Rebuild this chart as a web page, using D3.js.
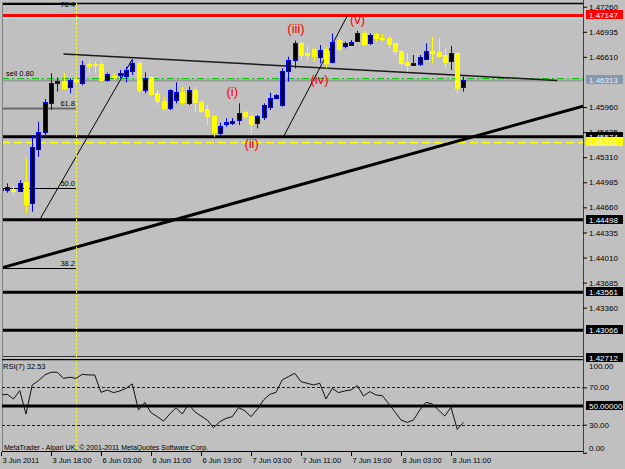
<!DOCTYPE html>
<html>
<head>
<meta charset="utf-8">
<script src="https://cdn.jsdelivr.net/npm/d3@7/dist/d3.min.js"></script>
<style>
  body { margin: 0; background: #c0c0c0; }
  svg { display: block; font-family: 'Liberation Sans', Arial, sans-serif; }
</style>
</head>
<body>
<div id="chart"></div>
<script>
// EURUSD-style H1 chart, 75 bars
var timeLabels = ['3 Jun 2011', '3 Jun 18:00', '6 Jun 03:00', '6 Jun 11:00', '6 Jun 19:00',
                  '7 Jun 03:00', '7 Jun 11:00', '7 Jun 19:00', '8 Jun 03:00', '8 Jun 11:00'];
var timeTickBars = [0, 8, 16, 24, 32, 40, 48, 56, 64, 72];

var opens = [1.44885, 1.44894, 1.44898, 1.44876, 1.44992, 1.44712, 1.45425, 1.45640, 1.46016, 1.46275,
             1.46301, 1.46216, 1.46319, 1.46267, 1.46518, 1.46518, 1.46518, 1.46310, 1.46362, 1.46366,
             1.46366, 1.46431, 1.46527, 1.46190, 1.46353, 1.46138, 1.46038, 1.45943, 1.46051, 1.46159,
             1.46016, 1.46181, 1.46029, 1.45930, 1.45844, 1.45627, 1.45740, 1.45757, 1.45792, 1.45899,
             1.45844, 1.45749, 1.45835, 1.45964, 1.46073, 1.45986, 1.46431, 1.46569, 1.46786, 1.46656,
             1.46708, 1.46612, 1.46708, 1.46534, 1.46829, 1.46742, 1.46764, 1.46820, 1.46923, 1.46786,
             1.46906, 1.46851, 1.46851, 1.46786, 1.46690, 1.46547, 1.46505, 1.46518, 1.46591, 1.46690,
             1.46677, 1.46634, 1.46547, 1.46656, 1.46223];
var highs = [1.44911, 1.44971, 1.44927, 1.45014, 1.45295, 1.45597, 1.45770, 1.46064, 1.46397, 1.46345,
             1.46405, 1.46332, 1.46336, 1.46560, 1.46560, 1.46544, 1.46547, 1.46405, 1.46397, 1.46440,
             1.46483, 1.46579, 1.46556, 1.46410, 1.46362, 1.46181, 1.46094, 1.46190, 1.46280, 1.46223,
             1.46223, 1.46223, 1.46051, 1.45986, 1.45857, 1.45757, 1.45814, 1.45818, 1.46008, 1.45908,
             1.45857, 1.45857, 1.46008, 1.46146, 1.46129, 1.46462, 1.46612, 1.46820, 1.46807, 1.46742,
             1.46721, 1.46764, 1.46742, 1.46915, 1.46851, 1.46807, 1.46829, 1.46949, 1.46949, 1.46915,
             1.46923, 1.46906, 1.46880, 1.46794, 1.46699, 1.46656, 1.46634, 1.46634, 1.46786, 1.46871,
             1.46851, 1.46721, 1.46751, 1.46677, 1.46353];
var lows = [1.44798, 1.44850, 1.44820, 1.44863, 1.44587, 1.44603, 1.45316, 1.45559, 1.45921, 1.46159,
            1.46181, 1.46138, 1.46271, 1.46245, 1.46397, 1.46397, 1.46288, 1.46288, 1.46310, 1.46332,
            1.46280, 1.46375, 1.46138, 1.46138, 1.46103, 1.45986, 1.45921, 1.45921, 1.46008, 1.45986,
            1.45986, 1.45899, 1.45883, 1.45727, 1.45575, 1.45597, 1.45705, 1.45727, 1.45727, 1.45814,
            1.45619, 1.45684, 1.45792, 1.45921, 1.46060, 1.45964, 1.46288, 1.46462, 1.46569, 1.46569,
            1.46547, 1.46527, 1.46462, 1.46527, 1.46677, 1.46721, 1.46751, 1.46807, 1.46751, 1.46764,
            1.46807, 1.46807, 1.46721, 1.46634, 1.46505, 1.46418, 1.46492, 1.46492, 1.46579, 1.46527,
            1.46604, 1.46462, 1.46440, 1.46138, 1.46159];
var closes = [1.44904, 1.44927, 1.44876, 1.44979, 1.44712, 1.45438, 1.45640, 1.46029, 1.46275, 1.46301,
              1.46216, 1.46310, 1.46293, 1.46505, 1.46496, 1.46501, 1.46310, 1.46388, 1.46345, 1.46397,
              1.46440, 1.46534, 1.46181, 1.46340, 1.46138, 1.46029, 1.45943, 1.46181, 1.46159, 1.46029,
              1.46181, 1.46029, 1.45912, 1.45844, 1.45640, 1.45718, 1.45766, 1.45783, 1.45886, 1.45844,
              1.45740, 1.45844, 1.45986, 1.46081, 1.46112, 1.46431, 1.46569, 1.46794, 1.46634, 1.46625,
              1.46612, 1.46699, 1.46527, 1.46799, 1.46708, 1.46786, 1.46807, 1.46923, 1.46786, 1.46893,
              1.46851, 1.46842, 1.46773, 1.46677, 1.46540, 1.46505, 1.46534, 1.46612, 1.46690, 1.46669,
              1.46621, 1.46540, 1.46656, 1.46203, 1.46313];

var rsiValues = [61.8, 62.5, 57.5, 66.4, 41.4, 72.5, 77.1, 83.2, 86.1, 86.1,
                 79.6, 80.7, 79.6, 83.9, 83.2, 83.2, 64.6, 67.1, 64.3, 66.1,
                 68.9, 73.6, 45.7, 53.9, 42.9, 38.6, 33.9, 41.4, 48.2, 41.4,
                 51.8, 43.9, 39.3, 35.0, 26.8, 33.2, 36.8, 38.6, 48.2, 45.0,
                 38.6, 46.4, 56.4, 62.5, 64.6, 77.9, 81.4, 85.0, 76.0, 74.3,
                 72.5, 74.3, 57.5, 68.9, 64.3, 66.1, 67.1, 71.8, 60.7, 65.4,
                 61.8, 61.1, 52.9, 43.9, 35.0, 32.5, 35.0, 45.7, 53.9, 52.1,
                 45.7, 39.3, 48.6, 25.0, 32.53];

var priceTicks = [1.47260, 1.46935, 1.46610, 1.45960, 1.45635, 1.45310,
                  1.44985, 1.44660, 1.44335, 1.44010, 1.43685, 1.43360];
var rsiTicks = [0, 30, 70, 100];
var rsiLevels = [30, 70];

// horizontal objects
var blackLevels = [1.45574, 1.44498, 1.43561, 1.43066, 1.42712];
var redLevel = 1.47147;
var cyanLevel = 1.47114;
var sellLevel = 1.46332;
var bidLevel = 1.46313;
var yellowLevel = 1.45511;

// fibo
var fiboNames = ['76.4', '61.8', '50.0', '38.2'];
var fiboPrices = [1.47289, 1.45944, 1.44907, 1.43874];
var fiboEndBar = 12;
var vlineBar = 12;

// waves
var waveNames = ['(i)', '(ii)', '(iii)', '(iv)', '(v)'];
var waveBars = [37, 40.1, 47.2, 50.96, 57.04];
var wavePrices = [1.46155, 1.45488, 1.46984, 1.46317, 1.47094];

// trendlines [bar, price]
var trendMain = [[0, 1.43874], [74, 1.45541]];
var trendUp1 = [[6.25, 1.44509], [21, 1.46578]];
var trendUp2 = [[45.2, 1.45576], [55.4, 1.47140]];
var trendFlat = [[10, 1.46647], [89, 1.46304]];

var pl = 2, pr = 583, pt = 3, pb = 357;
var rsiTop = 359, rsiBottom = 452;

var x = d3.scaleLinear().domain([0, 72]).range([1, 451]);
var y = d3.scaleLinear().domain([1.42721, 1.47308]).range([pb, pt]);
var yr = d3.scaleLinear().domain([30, 70]).range([424.7, 387.3]);

var svg = d3.select('#chart').append('svg')
            .attr('width', 625)
            .attr('height', 469);

svg.append('rect').attr('width', 625).attr('height', 469).attr('fill', '#c0c0c0');

var defs = svg.append('defs');
defs.append('clipPath').attr('id', 'clip-main')
    .append('rect').attr('x', pl).attr('y', 0).attr('width', pr - pl).attr('height', pb);
defs.append('clipPath').attr('id', 'clip-rsi')
    .append('rect').attr('x', pl).attr('y', rsiTop).attr('width', pr - pl).attr('height', rsiBottom - rsiTop);

var main = svg.append('g').attr('clip-path', 'url(#clip-main)');

function hline(g, yy, color, width, dash) {
    g.append('line')
        .attr('x1', pl).attr('x2', pr)
        .attr('y1', yy).attr('y2', yy)
        .attr('stroke', color)
        .attr('stroke-width', width)
        .attr('stroke-dasharray', dash || null);
}

function seg(g, pts, color, width, ray) {
    var i0 = pts[0][0], p0 = pts[0][1], i1 = pts[1][0], p1 = pts[1][1];
    var iEnd = ray ? x.invert(pr) : i1;
    var pEnd = p0 + (p1 - p0) * (iEnd - i0) / (i1 - i0);
    g.append('line')
        .attr('x1', x(i0)).attr('y1', y(p0))
        .attr('x2', x(iEnd)).attr('y2', y(pEnd))
        .attr('stroke', color)
        .attr('stroke-width', width);
}

// top frame line
hline(main, pt + 0.5, '#000', 1.5);

// Fibo
fiboPrices.forEach(function(p, k) {
    main.append('line')
        .attr('x1', pl).attr('x2', x(fiboEndBar))
        .attr('y1', Math.round(y(p)) + 0.5).attr('y2', Math.round(y(p)) + 0.5)
        .attr('stroke', k === 1 ? '#6a6a6a' : '#000')
        .attr('stroke-width', k === 1 ? 2 : 1);
    main.append('text')
        .attr('x', x(fiboEndBar) - 1)
        .attr('y', Math.max(7, y(p) - 2))
        .attr('text-anchor', 'end')
        .attr('font-size', 7.5)
        .attr('fill', '#000')
        .text(fiboNames[k]);
});

// horizontal levels
blackLevels.forEach(function(p) { hline(main, y(p), '#000', 3); });
hline(main, y(redLevel), '#ff0000', 3);
hline(main, y(cyanLevel), '#a8ffff', 1);
hline(main, Math.round(y(bidLevel)) + 0.5, '#9a9a9a', 2);
hline(main, Math.round(y(sellLevel)) + 0.5, '#10c010', 1, '7,3,2,3');
hline(main, Math.round(y(yellowLevel)) + 0.5, '#ffff00', 1.5, '8,4');

main.append('text')
    .attr('x', 6).attr('y', y(sellLevel) - 2.5)
    .attr('font-size', 7.5)
    .attr('fill', '#000')
    .text('sell 0.80');

// trendlines
seg(main, trendMain, '#000', 3, true);
seg(main, trendUp1, '#000', 1, false);
seg(main, trendUp2, '#000', 1, false);
seg(main, trendFlat, '#1a1a1a', 1.5, false);

// vertical dotted line
svg.append('line')
    .attr('x1', Math.round(x(vlineBar)) + 0.5).attr('x2', Math.round(x(vlineBar)) + 0.5)
    .attr('y1', pt).attr('y2', rsiBottom)
    .attr('stroke', '#ffff00')
    .attr('stroke-dasharray', '2,2');

// Candles
var bars = d3.range(opens.length);
var candle = main.selectAll('.candle')
    .data(bars)
    .enter().append('g')
    .attr('class', 'candle');

candle.append('line')
    .attr('x1', i => Math.round(x(i)) + 0.5)
    .attr('x2', i => Math.round(x(i)) + 0.5)
    .attr('y1', i => y(highs[i]))
    .attr('y2', i => y(lows[i]))
    .attr('stroke', i => closes[i] >= opens[i] ? '#0000ff' : '#ffff00');

candle.append('rect')
    .attr('x', i => Math.round(x(i)) - 1.5)
    .attr('width', 4)
    .attr('y', i => Math.round(y(Math.max(opens[i], closes[i]))) + 0.5)
    .attr('height', i => Math.max(1, Math.round(Math.abs(y(opens[i]) - y(closes[i])))))
    .attr('fill', i => closes[i] >= opens[i] ? '#000' : '#ffff00')
    .attr('stroke', i => closes[i] >= opens[i] ? '#0000ff' : '#ffff00');

// Wave labels
main.selectAll('.wave')
    .data(waveNames)
    .enter().append('text')
    .attr('class', 'wave')
    .attr('x', (d, k) => x(waveBars[k]))
    .attr('y', (d, k) => y(wavePrices[k]) + 4.5)
    .attr('text-anchor', 'middle')
    .attr('font-size', 13)
    .attr('fill', '#ff0000')
    .text(d => d);

// frame
svg.append('line').attr('x1', pl + 0.5).attr('x2', pl + 0.5).attr('y1', pt).attr('y2', rsiBottom)
    .attr('stroke', '#808080');
svg.append('line').attr('x1', pr + 0.5).attr('x2', pr + 0.5).attr('y1', 0).attr('y2', rsiBottom + 1)
    .attr('stroke', '#404040');

// RSI panel
var rsiG = svg.append('g').attr('clip-path', 'url(#clip-rsi)');
hline(rsiG, rsiTop + 0.5, '#000', 1.5);
hline(rsiG, rsiBottom - 0.5, '#000', 1);
rsiLevels.forEach(function(v) { hline(rsiG, Math.round(yr(v)) + 0.5, '#0000ff', 1, '3,2'); });
hline(rsiG, yr(50), '#000', 3);

rsiG.append('path')
    .datum(rsiValues)
    .attr('fill', 'none')
    .attr('stroke', '#101010')
    .attr('stroke-width', 1)
    .attr('d', d3.line().x((d, i) => x(i)).y(d => yr(d)));

rsiG.append('text')
    .attr('x', 3).attr('y', 368.5)
    .attr('font-size', 7.5)
    .text('RSI(7) ' + rsiValues[rsiValues.length - 1].toFixed(2));

svg.append('text')
    .attr('x', 4).attr('y', 449.5)
    .attr('font-size', 7)
    .text('MetaTrader - Alpari UK, \u00a9 2001-2011 MetaQuotes Software Corp.');

// price axis
var yAxis = d3.axisRight(y).tickValues(priceTicks).tickSize(4).tickPadding(2).tickFormat(d3.format('.5f'));
var gy = svg.append('g')
    .attr('transform', 'translate(' + pr + ',0)')
    .call(yAxis);
gy.select('.domain').remove();
gy.selectAll('text').attr('font-size', 8).attr('font-family', "'Liberation Sans', Arial, sans-serif").attr('fill', '#000');

// rsi axis
var rAxis = d3.axisRight(yr).tickValues(rsiTicks).tickSize(4).tickPadding(2).tickFormat(d3.format('.2f'));
var gr = svg.append('g')
    .attr('transform', 'translate(' + pr + ',0)')
    .call(rAxis);
gr.select('.domain').remove();
gr.selectAll('text').attr('font-size', 8).attr('font-family', "'Liberation Sans', Arial, sans-serif").attr('fill', '#000')
    .attr('dy', d => d === 100 ? '1.1em' : d === 0 ? '-0.3em' : '0.32em');
gr.selectAll('line').filter(d => d === 100).remove();

// time axis
var xAxis = d3.axisBottom(x).tickValues(timeTickBars).tickSize(4).tickPadding(2)
    .tickFormat((d, k) => timeLabels[k]);
var gx = svg.append('g')
    .attr('transform', 'translate(0,' + rsiBottom + ')')
    .call(xAxis);
gx.select('.domain').remove();
gx.selectAll('text').attr('font-size', 7.5).attr('font-family', "'Liberation Sans', Arial, sans-serif")
    .attr('text-anchor', 'start').attr('x', 1).attr('fill', '#000');

// price tags
function tag(yy, txt, bg, fg) {
    svg.append('rect')
        .attr('x', pr + 3).attr('y', Math.round(yy) - 5)
        .attr('width', 37).attr('height', 9)
        .attr('fill', bg);
    svg.append('text')
        .attr('x', pr + 6).attr('y', Math.round(yy) + 2.5)
        .attr('font-size', 8)
        .attr('fill', fg)
        .text(txt);
}
var fmt = d3.format('.5f');
tag(y(redLevel), fmt(redLevel), '#ff0000', '#fff');
tag(y(bidLevel), fmt(bidLevel), '#8898ac', '#e8eef4');
blackLevels.forEach(function(p) { tag(y(p), fmt(p), '#000', '#fff'); });
tag(y(yellowLevel), fmt(yellowLevel), '#ffff00', '#f4f4d0');
tag(yr(50), '50.00000', '#000', '#fff');
</script>
</body>
</html>
